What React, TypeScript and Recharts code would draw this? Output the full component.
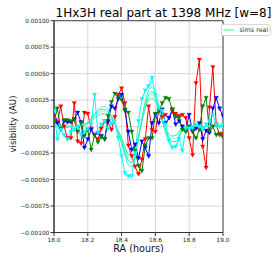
import React from 'react';
import { LineChart, Line, XAxis, YAxis, CartesianGrid, ReferenceArea, Legend } from 'recharts';

const raHours = [
  18.0, 18.02, 18.04, 18.06, 18.08, 18.1, 18.12, 18.14, 18.16, 18.18,
  18.2, 18.22, 18.24, 18.26, 18.28, 18.3, 18.32, 18.34, 18.36, 18.38,
  18.4, 18.42, 18.44, 18.46, 18.48, 18.5, 18.52, 18.54, 18.56, 18.58,
  18.6, 18.62, 18.64, 18.66, 18.68, 18.7, 18.72, 18.74, 18.76, 18.78,
  18.8, 18.82, 18.84, 18.86, 18.88, 18.9, 18.92, 18.94, 18.96, 18.98, 19.0,
];

// visibilities in units of 1e-5 AU
const redVis = [10, 4, 19, 0, -11, -11, 22, -14, -16, 13, 12, -2, -8, -12, -2, 5, 4, -3, 9, 30, 36, 22, -18, -28, -38, -45, -31, -12, 19, -3, -5, 16, 9, 11, 8, 14, 12, 10, 11, 8, -11, -27, 41, 63, -19, -39, 18, 56, 2, -8, -7];
const blueVis = [15, 3, -3, 5, 4, 4, 7, 13, 4, -20, -12, -3, -8, -6, -9, -12, 5, 19, 17, 26, 30, 15, -5, -22, -17, -30, -14, -20, -28, 3, 11, 3, 16, 3, 8, 16, 2, 5, 0, -3, 11, -5, -2, 3, -12, -4, -6, 17, 27, 17, 10];
const greenVis = [5, 17, -2, 6, 6, 5, 6, -5, 3, -9, -3, -22, -8, -15, -10, -12, 10, 23, 31, 28, 25, 16, 13, -5, -23, -37, -42, -18, -11, -11, 12, 14, 22, 27, 26, 16, 9, 8, -3, -5, 0, -4, -11, -3, 19, 27, -4, 0, -8, -7, -10];
const cyanVis = [15, -12, -3, -8, -12, -5, -3, 0, -8, -5, -2, 2, 30, -6, 2, 5, -2, 3, 5, -11, -28, -44, -47, -47, -25, 5, 26, 34, 38, 46, 30, 17, 15, 2, -13, -20, -19, -12, -23, -2, -2, -1, 2, 0, -3, 2, 5, 11, 2, 0, 2];

const simsA = [0, 0, 0, -1, -1, 0, 0, 0, 1, 2, 4, 8, 12, 16, 18, 19, 16, 10, 3, -6, -16, -27, -36, -38, -30, -12, 8, 24, 34, 37, 32, 20, 6, -6, -15, -19, -18, -11, -3, 0, 1, 1, 0, 0, -1, 0, 1, 1, 0, 0, 0];
const simsB = [0, 0, 0, -1, 0, 0, 0, 0, 1, 2, 4, 7, 11, 14, 16, 16, 14, 9, 3, -5, -14, -24, -32, -34, -27, -11, 7, 21, 30, 33, 28, 18, 6, -4, -11, -14, -14, -9, -2, 0, 1, 0, 0, 0, 0, 0, 1, 0, 0, 0, 0];
const simsC = [0, 0, 0, 0, 0, 0, 0, 0, 1, 2, 3, 6, 10, 12, 14, 14, 12, 8, 3, -4, -12, -21, -29, -31, -25, -10, 6, 19, 27, 30, 26, 16, 5, -3, -9, -11, -11, -7, -2, 0, 0, 1, 0, 0, 0, 0, 0, 1, 0, 0, 0];
const simsD = [0, 0, 0, 0, 0, 1, 0, 0, 1, 1, 3, 5, 8, 10, 12, 12, 10, 7, 2, -4, -11, -19, -26, -28, -23, -9, 5, 17, 25, 27, 24, 15, 5, -2, -7, -9, -8, -5, -1, 0, 0, 0, 1, 0, 0, 0, 0, 0, 1, 0, 0];

const xTicks = [18.0, 18.2, 18.4, 18.6, 18.8, 19.0];
const yTicks = [-0.001, -0.00075, -0.0005, -0.00025, 0, 0.00025, 0.0005, 0.00075, 0.001];

const titleText = '1Hx3H real part at 1398 MHz [w=8]';
const xLabel = 'RA (hours)';
const yLabel = 'visibility (AU)';
const legendLabel = 'sims real';

const UNIT = 1e-5;
const tableData = raHours.map((x, i) => ({
  x,
  red: redVis[i] * UNIT,
  blue: blueVis[i] * UNIT,
  green: greenVis[i] * UNIT,
  cyan: cyanVis[i] * UNIT,
  sA: simsA[i] * UNIT,
  sB: simsB[i] * UNIT,
  sC: simsC[i] * UNIT,
  sD: simsD[i] * UNIT,
}));

const FONT = '"DejaVu Sans", sans-serif';

const tri = (color: string) => (props: any) => {
  const { cx, cy, index } = props;
  if (cx == null || cy == null) return <g key={`${color}-${index}`} />;
  const pts = `${cx - 2.2},${cy - 1.8} ${cx + 2.2},${cy - 1.8} ${cx},${cy + 2.1}`;
  return <polygon key={`${color}-${index}`} points={pts} fill={color} stroke={color} strokeWidth={0.3} />;
};

const fmtY = (v: number) => {
  const s = Math.abs(v).toFixed(5);
  return v < 0 ? '\u2212' + s : s;
};

const simsColors = ['#40f0c8', '#00fa9a', '#7fffd4', '#30e0b0'];

const LegendBox = () => (
  <svg width={50} height={12} style={{ display: 'block' }}>
    <rect x={0.5} y={0.5} width={49} height={11} rx={1.5} fill="#fff" stroke="#d0d0d0" strokeWidth={0.8} />
    <line x1={2.5} x2={13} y1={6} y2={6} stroke="#80ffb8" strokeWidth={1.6} />
    <text x={18.5} y={8.2} fontSize={6.4} fontFamily={FONT} fill="#333">{legendLabel}</text>
  </svg>
);

export default function App() {
  return (
    <div style={{ position: 'absolute', left: 0, top: 0, width: 280, height: 253, background: '#fff' }}>
      <LineChart width={280} height={253} data={tableData} margin={{ top: 20.7, right: 7, bottom: 0, left: 0 }}>
        <CartesianGrid stroke="#d4d4d4" strokeWidth={0.9} />
        <XAxis
          dataKey="x"
          type="number"
          domain={[18, 19]}
          ticks={xTicks}
          tickFormatter={(v: number) => v.toFixed(1)}
          height={20.5}
          tickSize={3.5}
          tickMargin={2.2}
          stroke="#333"
          tick={{ fontSize: 5.8, fontFamily: FONT, fill: '#222' }}
          allowDataOverflow
          label={{
            content: (p: any) => {
              const vb = p.viewBox || { x: 54, y: 232.5, width: 219 };
              return (
                <text x={vb.x + vb.width / 2} y={vb.y + 19.8} textAnchor="middle" fontSize={9.6} fontFamily={FONT} fill="#111">
                  {xLabel}
                </text>
              );
            },
          }}
        />
        <YAxis
          type="number"
          domain={[-0.001, 0.001]}
          ticks={yTicks}
          tickFormatter={fmtY}
          width={54}
          tickSize={3.5}
          tickMargin={1.2}
          stroke="#333"
          tick={{ fontSize: 5.8, fontFamily: FONT, fill: '#222' }}
          allowDataOverflow
          label={{
            content: () => (
              <text x={15.5} y={124} textAnchor="middle" fontSize={8.6} fontFamily={FONT} fill="#111" transform="rotate(-90 15.5 124)">
                {yLabel}
              </text>
            ),
          }}
        />
        <ReferenceArea x1={18} x2={19} y1={-0.001} y2={0.001} fill="none" stroke="#333" strokeWidth={0.9} ifOverflow="visible" />
        <Legend
          layout="horizontal"
          verticalAlign="middle"
          align="right"
          wrapperStyle={{ left: 221, top: 23.5, width: 50, height: 12 }}
          content={() => <LegendBox />}
        />
        <Line dataKey="red" stroke="#ff0000" strokeWidth={1} dot={tri('#ff0000')} activeDot={false} isAnimationActive={false} legendType="none" />
        <Line dataKey="blue" stroke="#0000ff" strokeWidth={1} dot={tri('#0000ff')} activeDot={false} isAnimationActive={false} legendType="none" />
        <Line dataKey="green" stroke="#008000" strokeWidth={1} dot={tri('#008000')} activeDot={false} isAnimationActive={false} legendType="none" />
        <Line dataKey="sA" type="monotone" stroke={simsColors[0]} strokeWidth={1} dot={false} activeDot={false} isAnimationActive={false} name={legendLabel} />
        <Line dataKey="sB" type="monotone" stroke={simsColors[1]} strokeWidth={1} dot={false} activeDot={false} isAnimationActive={false} legendType="none" />
        <Line dataKey="sC" type="monotone" stroke={simsColors[2]} strokeWidth={1} dot={false} activeDot={false} isAnimationActive={false} legendType="none" />
        <Line dataKey="sD" type="monotone" stroke={simsColors[3]} strokeWidth={1} dot={false} activeDot={false} isAnimationActive={false} legendType="none" />
        <Line dataKey="cyan" stroke="#00ffff" strokeWidth={1} dot={tri('#00ffff')} activeDot={false} isAnimationActive={false} legendType="none" />
      </LineChart>
      <svg width={280} height={22} style={{ position: 'absolute', left: 0, top: 0, pointerEvents: 'none' }}>
        <text x={163.5} y={17.3} textAnchor="middle" fontSize={12} fontFamily={FONT} fill="#000">
          {titleText}
        </text>
      </svg>
    </div>
  );
}
